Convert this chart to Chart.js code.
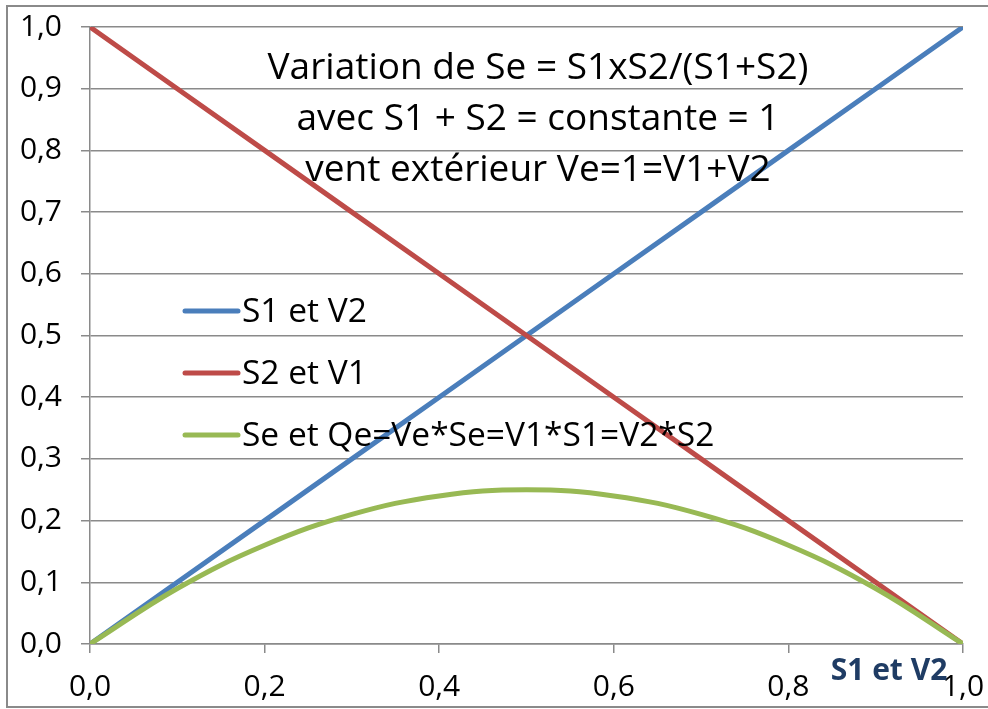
<!DOCTYPE html>
<html>
<head>
<meta charset="utf-8">
<script src="https://cdn.jsdelivr.net/npm/chart.js@4"></script>
<style>
  html, body { margin: 0; padding: 0; background: #fff; }
  #wrap { width: 988px; height: 709px; position: relative; }
</style>
</head>
<body>
<div id="wrap"><canvas id="chart"></canvas></div>
<script>
// values
const xValues = [0, 0.1, 0.2, 0.3, 0.4, 0.5, 0.6, 0.7, 0.8, 0.9, 1.0];
const s1V2 = [0, 0.1, 0.2, 0.3, 0.4, 0.5, 0.6, 0.7, 0.8, 0.9, 1.0];
const s2V1 = [1.0, 0.9, 0.8, 0.7, 0.6, 0.5, 0.4, 0.3, 0.2, 0.1, 0];
const seQe = [0, 0.09, 0.16, 0.21, 0.24, 0.25, 0.24, 0.21, 0.16, 0.09, 0];
const seriesNames = ["S1 et V2", "S2 et V1", "Se et Qe=Ve*Se=V1*S1=V2*S2"];
const seriesColors = ["#4a7ebb", "#be4b48", "#98b954"];
const titleLines = [
  "Variation de Se = S1xS2/(S1+S2)",
  "avec S1 + S2 = constante = 1",
  "vent extérieur Ve=1=V1+V2"
];
const xAxisTitle = "S1 et V2";

const FONT = "'Open Sans', sans-serif";
const fmt = (v) => v.toFixed(1).replace(".", ",");
const toPoints = (ys) => ys.map((y, i) => ({ x: xValues[i], y: y }));

// frame, title block, legend and axis title
const decorations = {
  id: "decorations",
  beforeDraw(chart) {
    const ctx = chart.ctx;
    ctx.save();
    ctx.strokeStyle = "#8a8a8a";
    ctx.lineWidth = 2;
    ctx.strokeRect(7, 6, 1000, 701);
    ctx.restore();
  },
  afterDraw(chart) {
    const ctx = chart.ctx;
    ctx.save();
    ctx.fillStyle = "#000";
    ctx.textAlign = "center";
    ctx.textBaseline = "middle";
    ctx.font = "37px " + FONT;
    titleLines.forEach((t, i) => ctx.fillText(t, 538, 68 + i * 51));

    // legend
    ctx.textAlign = "left";
    ctx.font = "33.5px " + FONT;
    ctx.lineCap = "round";
    seriesNames.forEach((name, i) => {
      const y = 311 + i * 62;
      ctx.strokeStyle = seriesColors[i];
      ctx.lineWidth = 5;
      ctx.beginPath();
      ctx.moveTo(185, y);
      ctx.lineTo(238, y);
      ctx.stroke();
      ctx.fillStyle = "#000";
      ctx.fillText(name, 242, y + 1);
    });

    // x axis title
    ctx.font = "bold 30px " + FONT;
    ctx.fillStyle = "#1f3c64";
    ctx.textAlign = "center";
    ctx.fillText(xAxisTitle, 889, 671);
    ctx.restore();
  }
};

new Chart(document.getElementById("chart"), {
  type: "line",
  data: {
    datasets: [s1V2, s2V1, seQe].map((ys, i) => ({
      label: seriesNames[i],
      data: toPoints(ys),
      borderColor: seriesColors[i],
      backgroundColor: seriesColors[i],
      borderWidth: 5,
      pointRadius: 0,
      tension: i === 2 ? 0.4 : 0,
      order: 3 - i
    }))
  },
  options: {
    responsive: true,
    maintainAspectRatio: false,
    animation: false,
    layout: { padding: { left: 0, right: 25, top: 27, bottom: 0 } },
    plugins: { legend: { display: false }, tooltip: { enabled: false } },
    scales: {
      x: {
        type: "linear",
        min: 0,
        max: 1,
        afterFit: (s) => { s.height = 65; s.paddingLeft = 0; s.paddingRight = 0; },
        ticks: {
          stepSize: 0.2,
          callback: (v) => fmt(v),
          font: { family: FONT, size: 30 },
          color: "#000",
          padding: 16
        },
        grid: { drawOnChartArea: false, drawTicks: true, tickLength: 9, color: "#8a8a8a", lineWidth: 1.5 },
        border: { color: "#8a8a8a", width: 1.5 }
      },
      y: {
        min: 0,
        max: 1,
        afterFit: (s) => { s.width = 90; s.paddingTop = 0; s.paddingBottom = 0; },
        ticks: {
          stepSize: 0.1,
          callback: (v) => fmt(v),
          font: { family: FONT, size: 30 },
          color: "#000",
          padding: 19
        },
        grid: { color: "#8a8a8a", lineWidth: 1.5, tickLength: 9 },
        border: { color: "#8a8a8a", width: 1.5 }
      }
    }
  },
  plugins: [decorations]
});
</script>
</body>
</html>
